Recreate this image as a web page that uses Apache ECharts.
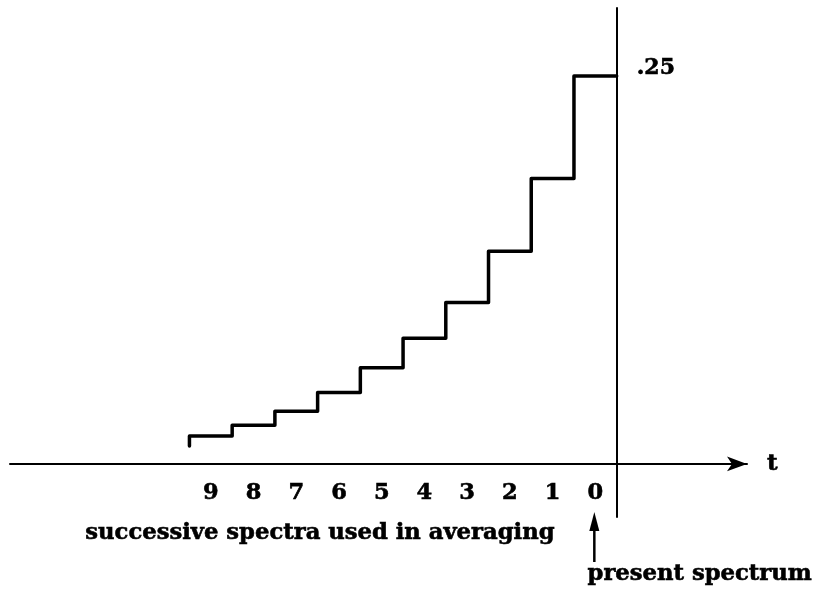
<!DOCTYPE html>
<html>
<head>
<meta charset="utf-8">
<script src="https://cdn.jsdelivr.net/npm/echarts@6/dist/echarts.min.js"></script>
<style>html,body{margin:0;padding:0;background:#fff}#c{width:814px;height:596px}</style>
</head>
<body>
<div id="c"></div>
<script>
// spectrum index (0 = present spectrum, 9 = oldest)
const spectra = [0, 1, 2, 3, 4, 5, 6, 7, 8, 9];
// weight of each spectrum read from the staircase
const weights = [0.25, 0.184, 0.137, 0.104, 0.081, 0.062, 0.046, 0.034, 0.025, 0.018];
// value where the oldest step's short lead-in starts
const leadIn = 0.0116;
const yTickValues = [0.25];
const yTickLabels = ['.25'];

const FONT = 'DejaVu Serif';
const heavy = { textBorderColor: '#000', textBorderWidth: 0.6 };

// axis ranges
const xMin = -14.2, xMax = 3.05;
const yMin = -0.0342, yMax = 0.2938;

// staircase: step k spans t in [-(k+1), -k]
const stairData = [[-10, leadIn]];
for (let k = spectra.length - 1; k >= 0; k--) {
  stairData.push([-(spectra[k] + 1), weights[k]]);
}
stairData.push([0, weights[0]]);

const labelPositions = spectra.map(k => -(k + 0.5));

const W = 814, H = 596;
const grid = { left: 10, right: 67, top: 8, bottom: 79 };
const gw = W - grid.left - grid.right, gh = H - grid.top - grid.bottom;
// distance from grid edges to the zero lines (so the axes cross at t=0, value=0)
const yAxisShift = gw * (0 - xMin) / (xMax - xMin);
const xAxisShift = gh * (0 - yMin) / (yMax - yMin);

const chart = echarts.init(document.getElementById('c'));
const option = {
  animation: false,
  backgroundColor: '#fff',
  grid: Object.assign({ containLabel: false }, grid),
  xAxis: {
    type: 'value',
    min: xMin,
    max: xMax,
    position: 'bottom',
    offset: -xAxisShift,
    splitLine: { show: false },
    axisLine: {
      onZero: false,
      symbol: ['none', 'arrow'],
      symbolSize: [11, 20],
      lineStyle: { color: '#000', width: 2 }
    },
    axisTick: { show: false },
    axisLabel: Object.assign({
      customValues: labelPositions,
      formatter: v => String(Math.round(-v - 0.5)),
      color: '#000',
      fontFamily: FONT,
      fontWeight: 'bold',
      fontSize: 22.5,
      margin: 18
    }, heavy),
    name: 't',
    nameLocation: 'end',
    nameGap: 20,
    nameTextStyle: Object.assign({ color: '#000', fontFamily: FONT, fontWeight: 'bold', fontSize: 23 }, heavy)
  },
  yAxis: {
    type: 'value',
    min: yMin,
    max: yMax,
    position: 'left',
    offset: -yAxisShift,
    splitLine: { show: false },
    axisLine: { show: true, onZero: false, lineStyle: { color: '#000', width: 2 } },
    axisTick: { show: false },
    axisLabel: Object.assign({
      inside: true,
      customValues: yTickValues,
      formatter: v => yTickLabels[yTickValues.indexOf(v)] || '',
      color: '#000',
      fontFamily: FONT,
      fontWeight: 'bold',
      fontSize: 22,
      lineHeight: 15,
      margin: 20,
      verticalAlign: 'bottom'
    }, heavy)
  },
  series: [{
    type: 'line',
    step: 'end',
    data: stairData,
    symbol: 'none',
    clip: false,
    lineStyle: { color: '#000', width: 3.5, join: 'round', cap: 'round' }
  }]
};
chart.setOption(option);

// annotations placed from axis coordinates
const p0 = chart.convertToPixel({ gridIndex: 0 }, [labelPositions[0], 0]);
const gridBottom = chart.convertToPixel({ gridIndex: 0 }, [0, yMin]);
const ax = p0[0] - 1;
const yBase = gridBottom[1];
const textFont = 'bold 22.7px "' + FONT + '"';
chart.setOption({
  graphic: [
    {
      type: 'line',
      shape: { x1: ax, y1: yBase + 45, x2: ax, y2: yBase + 8 },
      style: { stroke: '#000', lineWidth: 2.5 }
    },
    {
      type: 'polygon',
      shape: { points: [[ax, yBase - 5], [ax - 5, yBase + 14], [ax + 5, yBase + 14]] },
      style: { fill: '#000' }
    },
    {
      type: 'text',
      left: 85,
      top: yBase + 4,
      style: { text: 'successive spectra used in averaging', fill: '#000', font: textFont, stroke: '#000', lineWidth: 0.6 }
    },
    {
      type: 'text',
      right: 2,
      top: yBase + 45,
      style: { text: 'present spectrum', fill: '#000', font: textFont, stroke: '#000', lineWidth: 0.6 }
    }
  ]
});
</script>
</body>
</html>
